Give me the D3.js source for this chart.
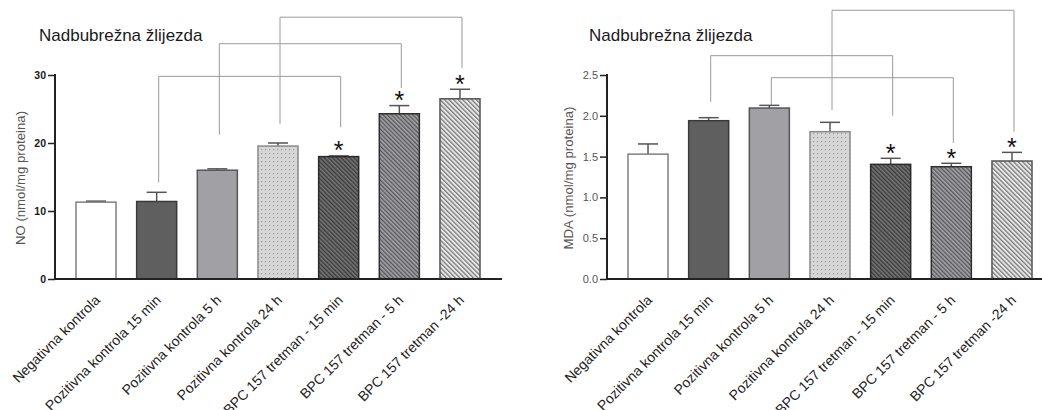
<!DOCTYPE html>
<html>
<head>
<meta charset="utf-8">
<script src="https://cdn.jsdelivr.net/npm/d3@7"></script>
<style>
  html, body { margin: 0; padding: 0; background: #fff; }
  svg { display: block; font-family: "Liberation Sans", Arial, sans-serif; }
</style>
</head>
<body>
<svg id="chart" width="1042" height="410"></svg>
<script>
// ---- Data ----
const categories = [
  "Negativna kontrola",
  "Pozitivna kontrola 15 min",
  "Pozitivna kontrola 5 h",
  "Pozitivna kontrola 24 h",
  "BPC 157 tretman - 15 min",
  "BPC 157 tretman - 5 h",
  "BPC 157 tretman -24 h"
];
const title = "Nadbubrežna žlijezda";

const noMeans = [11.3, 11.4, 16.0, 19.55, 18.0, 24.3, 26.5];
const noErrTops = [11.45, 12.75, 16.2, 20.0, 18.1, 25.5, 27.9];
const noTicks = [0, 10, 20, 30];
const noStars = [false, false, false, false, true, true, true];
// brackets: [fromIndex, toIndex, topValue, leftEndValue, rightEndValue]
const noBrackets = [
  [1, 4, 29.8, 14.2, 22.3],
  [2, 5, 34.6, 21.2, 28.1],
  [3, 6, 38.5, 22.8, 31.0]
];

const mdaMeans = [1.53, 1.94, 2.095, 1.805, 1.405, 1.376, 1.446];
const mdaErrTops = [1.655, 1.977, 2.128, 1.92, 1.479, 1.418, 1.552];
const mdaTicks = [0.0, 0.5, 1.0, 1.5, 2.0, 2.5];
const mdaStars = [false, false, false, false, true, true, true];
const mdaBrackets = [
  [1, 4, 2.737, 2.17, 2.0],
  [2, 5, 2.467, 2.12, 1.667],
  [3, 6, 3.293, 2.07, 1.805]
];

// ---- Patterns / fills ----
const svg = d3.select("#chart");
const defs = svg.append("defs");

function hatch(id, bg, fg, size, lw) {
  const p = defs.append("pattern")
    .attr("id", id).attr("patternUnits", "userSpaceOnUse")
    .attr("width", size).attr("height", size)
    .attr("patternTransform", "rotate(-45)");
  p.append("rect").attr("width", size).attr("height", size).attr("fill", bg);
  p.append("rect").attr("width", lw).attr("height", size).attr("fill", fg);
}
function dots(id, bg, fg, size, r) {
  const p = defs.append("pattern")
    .attr("id", id).attr("patternUnits", "userSpaceOnUse")
    .attr("width", size).attr("height", size);
  p.append("rect").attr("width", size).attr("height", size).attr("fill", bg);
  p.append("rect").attr("x", 1).attr("y", 1).attr("width", r).attr("height", r).attr("fill", fg);
}
dots("pDots", "#d6d6d6", "#9a9a9a", 4, 1.2);
hatch("pHatchDark", "#777777", "#3a3a3a", 3.0, 1.4);
hatch("pHatchMid", "#a4a4a8", "#555558", 3.0, 1.3);
hatch("pHatchLight", "#e8e8e8", "#7a7a7a", 3.2, 1.3);

const fills = ["#ffffff", "#5f5f5f", "#a1a1a5", "url(#pDots)", "url(#pHatchDark)", "url(#pHatchMid)", "url(#pHatchLight)"];
const strokes = ["#808080", "#3a3a3a", "#555555", "#8a8a8a", "#2a2a2a", "#2e2e2e", "#555555"];

function drawChart(cfg) {
  const g = svg.append("g");
  const x = d3.scaleBand()
    .domain(categories)
    .range([cfg.axisX, cfg.axisX + 446])
    .paddingInner(0.34)
    .paddingOuter(0.346);
  const y = d3.scaleLinear().domain(cfg.domain).range([279, 75]);

  // title
  g.append("text")
    .attr("x", cfg.titleX).attr("y", 41)
    .attr("font-size", 17).attr("fill", "#1a1a1a")
    .text(title);

  // y label
  g.append("text")
    .attr("transform", `translate(${cfg.labelX},178) rotate(-90)`)
    .attr("text-anchor", "middle")
    .attr("font-size", 13.2).attr("fill", "#555")
    .text(cfg.yLabel);

  // brackets
  const bw = x.bandwidth();
  cfg.brackets.forEach(b => {
    const x1 = x(categories[b[0]]) + bw / 2 + 2;
    const x2 = x(categories[b[1]]) + bw / 2 + 2;
    const path = d3.path();
    path.moveTo(x1, y(b[3]));
    path.lineTo(x1, y(b[2]));
    path.lineTo(x2, y(b[2]));
    path.lineTo(x2, y(b[4]));
    g.append("path").attr("d", path.toString())
      .attr("fill", "none").attr("stroke", "#9a9a9a").attr("stroke-width", 1);
  });

  // error bars
  categories.forEach((c, i) => {
    const cx = x(c) + bw / 2;
    g.append("line")
      .attr("x1", cx).attr("x2", cx)
      .attr("y1", y(cfg.means[i])).attr("y2", y(cfg.errs[i]))
      .attr("stroke", "#555").attr("stroke-width", 1.5);
    g.append("line")
      .attr("x1", cx - 10).attr("x2", cx + 10)
      .attr("y1", y(cfg.errs[i])).attr("y2", y(cfg.errs[i]))
      .attr("stroke", "#555").attr("stroke-width", 1.5);
  });

  // bars
  g.selectAll("rect.bar").data(cfg.means).join("rect")
    .attr("class", "bar")
    .attr("x", (d, i) => x(categories[i]))
    .attr("y", d => y(d))
    .attr("width", bw)
    .attr("height", d => y(0) - y(d))
    .attr("fill", (d, i) => fills[i])
    .attr("stroke", (d, i) => strokes[i])
    .attr("stroke-width", 1.5);

  // stars
  categories.forEach((c, i) => {
    if (!cfg.stars[i]) return;
    g.append("text")
      .attr("x", x(c) + bw / 2).attr("y", y(cfg.errs[i]) - 11 + 14.5)
      .attr("text-anchor", "middle")
      .attr("font-size", 25).attr("fill", "#111")
      .text("*");
  });

  // y axis
  const yAxis = d3.axisLeft(y).tickValues(cfg.ticks).tickSize(7).tickPadding(2)
    .tickFormat(cfg.fmt);
  const ya = g.append("g").attr("transform", `translate(${cfg.axisX},0)`).call(yAxis);
  ya.select(".domain").attr("stroke", "#222").attr("stroke-width", 2).attr("d", `M0,74V280`);
  ya.selectAll(".tick line").attr("stroke", "#222").attr("stroke-width", 1.5);
  ya.selectAll(".tick text")
    .attr("font-family", "Liberation Sans, Arial, sans-serif")
    .attr("font-size", cfg.boldTicks ? 10.5 : 11)
    .attr("font-weight", cfg.boldTicks ? "bold" : "normal")
    .attr("fill", cfg.boldTicks ? "#1a1a1a" : "#555");

  // x axis
  const xAxis = d3.axisBottom(x).tickSize(0).tickFormat("");
  const xa = g.append("g").attr("transform", `translate(0,279)`).call(xAxis);
  xa.select(".domain").attr("stroke", "#222").attr("stroke-width", 2)
    .attr("d", `M${cfg.axisX - 1},0H${cfg.axisX + 447}`);

  // x labels
  categories.forEach(c => {
    const cx = x(c) + bw / 2;
    g.append("text")
      .attr("transform", `translate(${cx + 5},${301}) rotate(-45)`)
      .attr("text-anchor", "end")
      .attr("font-size", 14).attr("fill", "#222")
      .text(c);
  });
}

drawChart({
  axisX: 55, domain: [0, 30], means: noMeans, errs: noErrTops, ticks: noTicks,
  stars: noStars, brackets: noBrackets, titleX: 39, labelX: 25,
  yLabel: "NO (nmol/mg proteina)", boldTicks: true, fmt: d3.format("d")
});
drawChart({
  axisX: 607, domain: [0, 2.5], means: mdaMeans, errs: mdaErrTops, ticks: mdaTicks,
  stars: mdaStars, brackets: mdaBrackets, titleX: 589, labelX: 573,
  yLabel: "MDA (nmol/mg proteina)", boldTicks: false, fmt: d3.format(".1f")
});
</script>
</body>
</html>
